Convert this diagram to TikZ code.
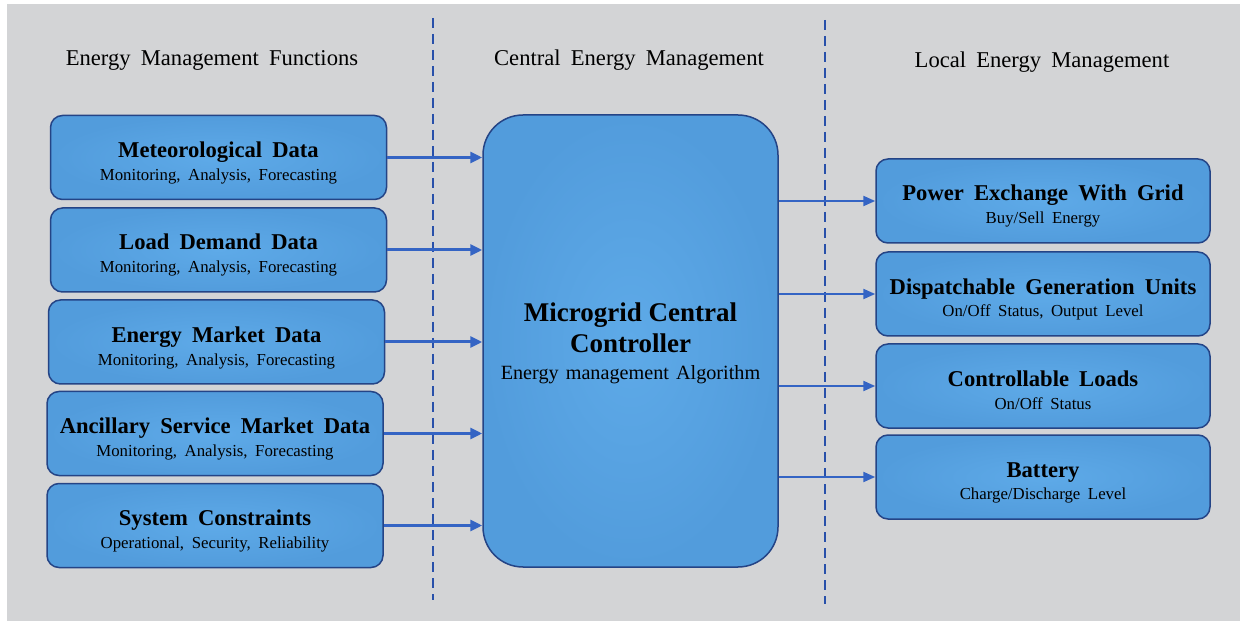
\documentclass[tikz,border=0pt]{standalone}
\usepackage{fontspec}
\setmainfont{Liberation Serif}
\usetikzlibrary{arrows.meta}

\definecolor{pagebg}{RGB}{211,212,214}
\definecolor{boxin}{RGB}{94,170,232}
\definecolor{boxout}{RGB}{82,156,220}
\definecolor{boxedge}{RGB}{36,68,134}
\definecolor{flowblue}{RGB}{52,100,196}
\definecolor{dashblue}{RGB}{40,80,170}

\newcommand{\widespaces}{\spaceskip=0.45em plus 0.1em\relax}
% two-line block label: bold title over a smaller description
\newcommand{\boxlabel}[2]{\rule{0pt}{13.5pt}{\fontsize{11.3}{11.5}\selectfont\bfseries\widespaces #1}\\%
  \rule[-2pt]{0pt}{2pt}{\widespaces #2}}
\newcommand{\hubtitle}[1]{{\fontsize{13.5}{16}\selectfont\bfseries #1}}

\begin{document}
\begin{tikzpicture}[x=0.5pt,y=-0.5pt,
  panel/.style={draw=boxedge, line width=0.75pt, inner color=boxin, outer color=boxout,
    rounded corners=6pt, inner sep=0pt, align=center, text=black,
    font=\fontsize{8.4}{11.5}\selectfont},
  leftbox/.style={panel, minimum width=168pt, minimum height=42pt},
  rightbox/.style={panel, minimum width=167pt, minimum height=42pt},
  hubbox/.style={panel, rounded corners=20pt, minimum width=147.5pt, minimum height=226pt,
    font=\fontsize{10.1}{13.5}\selectfont},
  heading/.style={font=\fontsize{11.3}{13}\selectfont\widespaces, text=black},
  divider/.style={draw=dashblue, line width=1pt, dash pattern=on 5pt off 3pt},
  feed/.style={draw=flowblue, line width=1.5pt, -{Triangle[length=6pt,width=5.5pt]}},
  command/.style={draw=flowblue, line width=1.1pt, -{Triangle[length=6pt,width=5pt]}}
]
% page
\fill[white] (0,0) rectangle (1250,626);
\fill[pagebg] (7,4) rectangle (1240,621);
\useasboundingbox (0,0) rectangle (1250,626);

% column headings
\node[heading] (hL) at (212,60) {Energy Management Functions};
\node[heading] (hC) at (629,60) {Central Energy Management};
\node[heading] (hR) at (1042,62) {Local Energy Management};

% column dividers
\coordinate (d1a) at (433,18);
\coordinate (d1b) at (433,600);
\coordinate (d2a) at (825,20);
\coordinate (d2b) at (825,604);
\draw[divider] (d1a) -- (d1b);
\draw[divider] (d2a) -- (d2b);

% input data blocks
\node[leftbox] (met) at (218.5,157.5) {\boxlabel{Meteorological Data}{Monitoring, Analysis, Forecasting}};
\node[leftbox] (load) at (218.5,250) {\boxlabel{Load Demand Data}{Monitoring, Analysis, Forecasting}};
\node[leftbox] (mkt) at (216.5,342) {\boxlabel{Energy Market Data}{Monitoring, Analysis, Forecasting}};
\node[leftbox] (anc) at (215,433.5) {\boxlabel{Ancillary Service Market Data}{Monitoring, Analysis, Forecasting}};
\node[leftbox] (sys) at (215,525.5) {\boxlabel{System Constraints}{Operational, Security, Reliability}};

% central controller
\node[hubbox] (mgcc) at (630.5,341) {\rule{0pt}{12pt}\hubtitle{Microgrid Central}\\[2pt]\hubtitle{Controller}\\
  {\spaceskip=0.35em plus 0.1em\relax Energy management Algorithm}};

% local units
\node[rightbox] (grid) at (1043,201) {\boxlabel{Power Exchange With Grid}{Buy/Sell Energy}};
\node[rightbox] (gen) at (1043,294) {\boxlabel{Dispatchable Generation Units}{On/Off Status, Output Level}};
\node[rightbox] (cl) at (1043,386) {\boxlabel{Controllable Loads}{On/Off Status}};
\node[rightbox] (bat) at (1043,477) {\boxlabel{Battery}{Charge/Discharge Level}};

% data flows into the controller
\foreach \s in {met,load,mkt,anc,sys}
  \draw[feed] (\s.east) -- (\s.east -| mgcc.west);

% commands to the local units
\foreach \t in {grid,gen,cl,bat}
  \draw[command] (mgcc.east |- \t.west) -- (\t.west);
\end{tikzpicture}
\end{document}
